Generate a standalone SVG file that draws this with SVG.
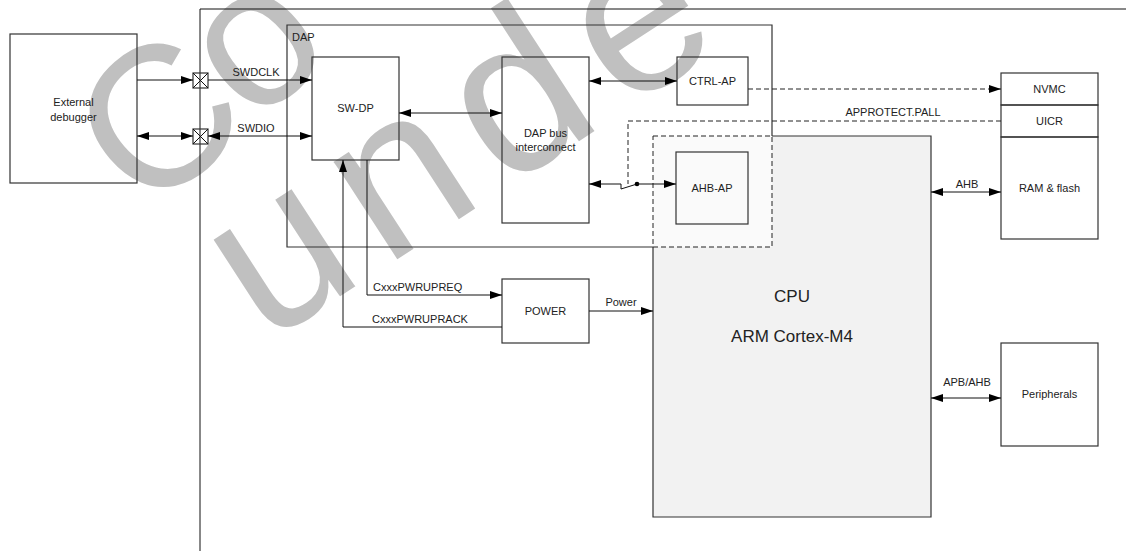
<svg xmlns="http://www.w3.org/2000/svg" width="1126" height="551" viewBox="0 0 1126 551">
<defs>
<style>
.box{fill:none;stroke:#333;stroke-width:1.2}
.ln{fill:none;stroke:#111;stroke-width:1}
.dash{fill:none;stroke:#222;stroke-width:1;stroke-dasharray:5,3}
text{font-family:"Liberation Sans",Arial,sans-serif;fill:#222}
.t{font-size:11px;text-anchor:middle}
.l{font-size:11px}
.big{font-size:17px;text-anchor:middle}
.wm{fill:#c0c0c0}
</style>
<marker id="ah" viewBox="0 0 12 8" refX="12" refY="4" markerWidth="12" markerHeight="8" orient="auto-start-reverse" markerUnits="userSpaceOnUse"><path d="M0,0 L12,4 L0,8 z" fill="#000"/></marker>
</defs>
<rect width="1126" height="551" fill="#fff"/>
<g id="watermark">
<text class="wm" x="148" y="218" font-size="200" letter-spacing="-5" transform="rotate(-41 148 218)">Co</text>
<text class="wm" x="265" y="345" font-size="220" letter-spacing="20" transform="rotate(-33 265 345)">unde</text>
</g>
<g id="chip"><path class="ln" d="M200,551 V9 H1126"/></g>
<g id="cpu">
<rect x="653" y="136" width="278" height="381" fill="#f2f2f2"/>
<rect x="653" y="136" width="119" height="111" fill="#fafafa"/>
<path class="box" d="M653,247 V517 H931 V136 H772"/>
<text class="big" x="792" y="302">CPU</text>
<text class="big" x="792" y="342">ARM Cortex-M4</text>
</g>
<g id="dap">
<path class="box" d="M772,136 V25 H287 V247 H653"/>
<rect class="dash" x="653" y="136" width="119" height="111"/>
<text class="l" x="292" y="41">DAP</text>
</g>
<g id="ext"><rect class="box" x="10" y="34" width="127" height="149"/><text class="t" x="73.5" y="106">External</text><text class="t" x="73.5" y="121">debugger</text></g>
<g id="pin1"><rect class="box" x="193" y="73" width="15" height="15" fill="#fff"/><path class="ln" d="M193,73 L208,88 M208,73 L193,88"/></g>
<g id="pin2"><rect class="box" x="193" y="129" width="15" height="15" fill="#fff"/><path class="ln" d="M193,129 L208,144 M208,129 L193,144"/></g>
<g id="swdp"><rect class="box" x="312" y="57" width="87" height="103"/><text class="t" x="355.5" y="112">SW-DP</text></g>
<g id="dapbus"><rect class="box" x="502" y="57" width="87" height="166"/><text class="t" x="545.5" y="137">DAP bus</text><text class="t" x="545.5" y="151">interconnect</text></g>
<g id="ctrlap"><rect class="box" x="677" y="57" width="71" height="48"/><text class="t" x="712.5" y="85">CTRL-AP</text></g>
<g id="ahbap"><rect class="box" x="676" y="152" width="72" height="72" fill="#fff"/><text class="t" x="712" y="192">AHB-AP</text></g>
<g id="power"><rect class="box" x="502" y="279" width="87" height="64"/><text class="t" x="545.5" y="315">POWER</text></g>
<g id="nvmc"><rect class="box" x="1001" y="73" width="97" height="32"/><text class="t" x="1049.5" y="93">NVMC</text></g>
<g id="uicr"><rect class="box" x="1001" y="105" width="97" height="32"/><text class="t" x="1049.5" y="125">UICR</text></g>
<g id="ram"><rect class="box" x="1001" y="137" width="97" height="102"/><text class="t" x="1049.5" y="192">RAM &amp; flash</text></g>
<g id="periph"><rect class="box" x="1001" y="343" width="97" height="103"/><text class="t" x="1049.5" y="398">Peripherals</text></g>
<g id="connectors">
<path class="ln" d="M137,80 H193" marker-end="url(#ah)"/>
<path class="ln" d="M208,80 H312" marker-end="url(#ah)"/>
<path class="ln" d="M137,136 H193" marker-start="url(#ah)" marker-end="url(#ah)"/>
<path class="ln" d="M208,136 H312" marker-start="url(#ah)" marker-end="url(#ah)"/>
<path class="ln" d="M399,113 H502" marker-start="url(#ah)" marker-end="url(#ah)"/>
<path class="ln" d="M589,81 H677" marker-start="url(#ah)" marker-end="url(#ah)"/>
<path class="dash" d="M748,89 H1001" marker-end="url(#ah)"/>
<path class="dash" d="M1001,121 H628 V184"/>
<path class="ln" d="M621,184 H589" marker-end="url(#ah)"/>
<path class="ln" d="M621,184 V189 L637,184"/>
<circle cx="637" cy="184" r="2.3" fill="#000"/>
<path class="ln" d="M637,184 H676" marker-end="url(#ah)"/>
<path class="ln" d="M931,192 H1001" marker-start="url(#ah)" marker-end="url(#ah)"/>
<path class="ln" d="M931,398 H1001" marker-start="url(#ah)" marker-end="url(#ah)"/>
<path class="ln" d="M367,160 V295 H502" marker-end="url(#ah)"/>
<path class="ln" d="M502,327 H343 V160" marker-end="url(#ah)"/>
<path class="ln" d="M589,311 H653" marker-end="url(#ah)"/>
<text class="t" x="256" y="76">SWDCLK</text>
<text class="t" x="256" y="132">SWDIO</text>
<text class="l" x="373" y="291">CxxxPWRUPREQ</text>
<text class="l" x="372" y="323">CxxxPWRUPRACK</text>
<text class="t" x="621" y="306">Power</text>
<text class="t" x="893" y="116">APPROTECT.PALL</text>
<text class="t" x="967" y="188">AHB</text>
<text class="t" x="967" y="386">APB/AHB</text>
</g>
</svg>
